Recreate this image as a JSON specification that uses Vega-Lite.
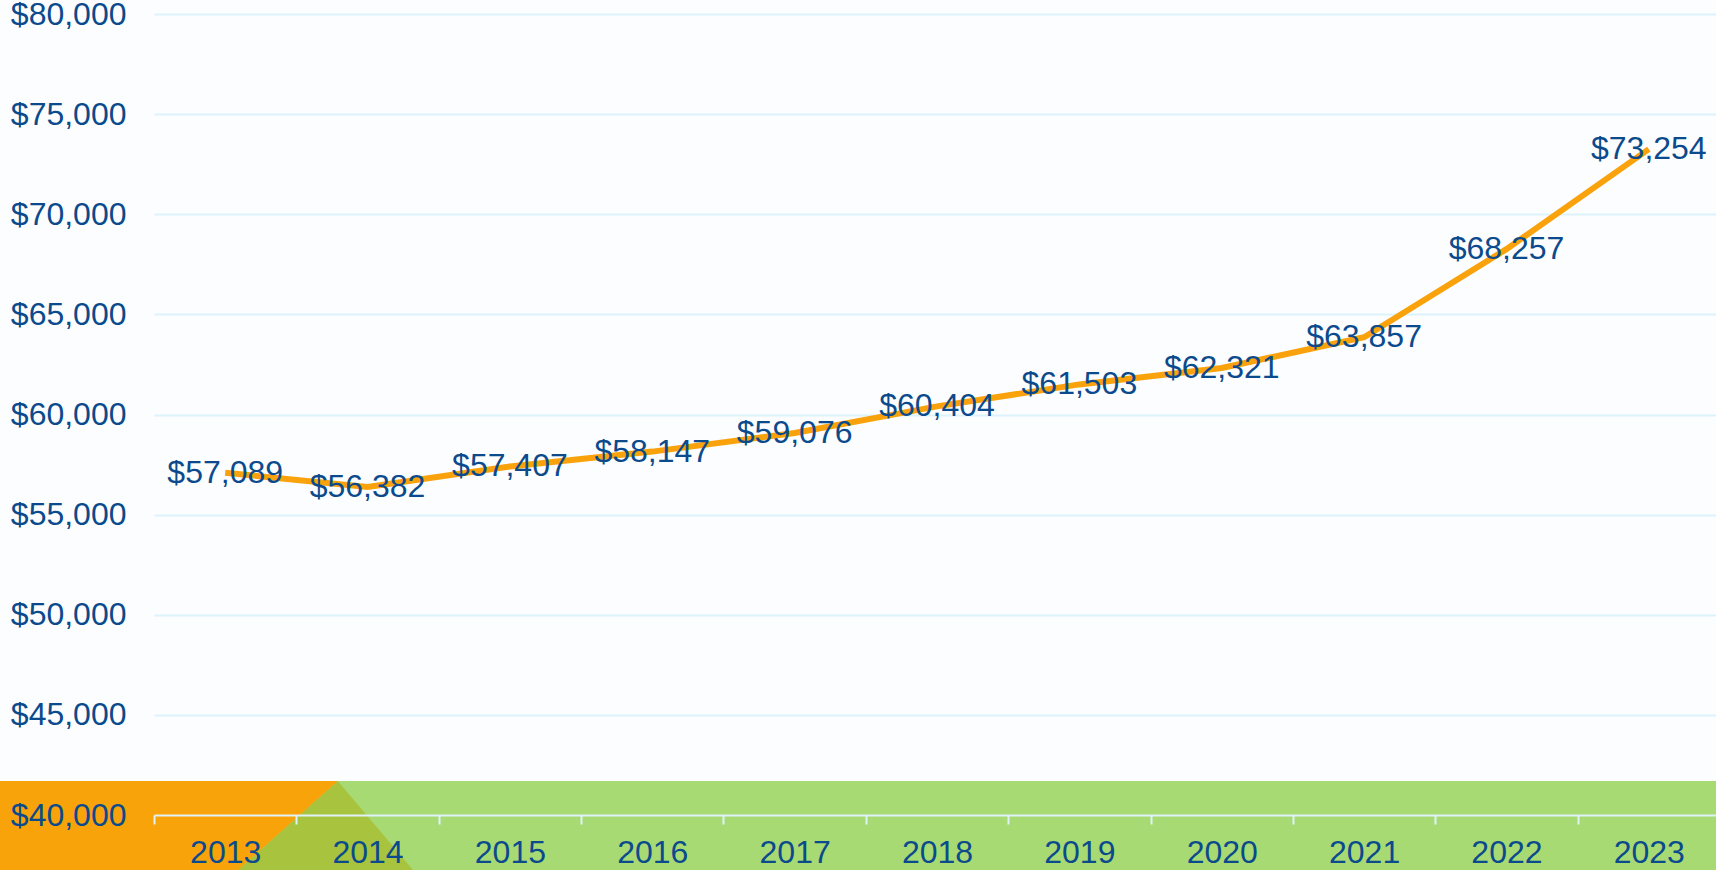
{
  "$schema": "https://vega.github.io/schema/vega-lite/v6.json",
  "width": 1566,
  "height": 801,
  "autosize": {"type": "none"},
  "padding": {"left": 154, "top": 14, "right": 0, "bottom": 55},
  "background": "#fbfdfe",
  "config": {"view": {"stroke": null}, "font": "Liberation Sans"},
  "datasets": {
    "income": [
      {"year": 2013, "income": 57089},
      {"year": 2014, "income": 56382},
      {"year": 2015, "income": 57407},
      {"year": 2016, "income": 58147},
      {"year": 2017, "income": 59076},
      {"year": 2018, "income": 60404},
      {"year": 2019, "income": 61503},
      {"year": 2020, "income": 62321},
      {"year": 2021, "income": 63857},
      {"year": 2022, "income": 68257},
      {"year": 2023, "income": 73254}
    ],
    "band": [{"year": 2011.3, "year2": 2023.7, "top": 41700, "bottom": 37000}],
    "olive": [
      {"year": 2013.09, "top": 37250, "bottom": 37250},
      {"year": 2013.791, "top": 41700, "bottom": 37250},
      {"year": 2014.32, "top": 37250, "bottom": 37250}
    ],
    "orange": [
      {"year": 2011.3, "top": 41700, "bottom": 37000},
      {"year": 2013.09, "top": 41700, "bottom": 37250},
      {"year": 2013.791, "top": 41700, "bottom": 41700}
    ]
  },
  "encoding": {
    "x": {
      "field": "year", "type": "quantitative", "title": null,
      "scale": {"domain": [2012.5, 2023.5], "nice": false, "zero": false},
      "axis": {
        "title": null,
        "zindex": 1,
        "values": [2012.5, 2013, 2013.5, 2014, 2014.5, 2015, 2015.5, 2016, 2016.5, 2017, 2017.5, 2018, 2018.5, 2019, 2019.5, 2020, 2020.5, 2021, 2021.5, 2022, 2022.5, 2023, 2023.5],
        "labelExpr": "datum.value % 1 == 0 ? '' + datum.value : ''",
        "tickOpacity": {"condition": {"test": "datum.value % 1 == 0", "value": 0}, "value": 1},
        "labelOverlap": false,
        "labelFlush": false,
        "labelBound": false,
        "grid": false,
        "domainColor": "#dff2f8",
        "domainWidth": 2,
        "tickColor": "#dff2f8",
        "tickWidth": 2,
        "tickSize": 9,
        "labelFontSize": 32,
        "labelColor": "#0b4a8c",
        "labelPadding": 13
      }
    }
  },
  "layer": [
    {
      "data": {"name": "band"},
      "mark": {"type": "rect", "color": "#a8da74"},
      "encoding": {
        "x2": {"field": "year2"},
        "y": {"field": "top", "type": "quantitative", "scale": {"domain": [40000, 80000], "nice": false, "zero": false}, "axis": null},
        "y2": {"field": "bottom"}
      }
    },
    {
      "data": {"name": "olive"},
      "mark": {"type": "area", "color": "#a8c43e", "orient": "vertical"},
      "encoding": {
        "y": {"field": "top", "type": "quantitative", "scale": {"domain": [40000, 80000], "nice": false, "zero": false}, "axis": null},
        "y2": {"field": "bottom"}
      }
    },
    {
      "data": {"name": "orange"},
      "mark": {"type": "area", "color": "#f9a30a", "orient": "vertical"},
      "encoding": {
        "y": {"field": "top", "type": "quantitative", "scale": {"domain": [40000, 80000], "nice": false, "zero": false}, "axis": null},
        "y2": {"field": "bottom"}
      }
    },
    {
      "data": {"name": "income"},
      "mark": {"type": "line", "color": "#f9a20b", "strokeWidth": 6},
      "encoding": {
        "y": {
          "field": "income", "type": "quantitative",
          "scale": {"domain": [40000, 80000], "nice": false, "zero": false},
          "axis": {
            "orient": "left",
            "title": null,
            "values": [45000, 50000, 55000, 60000, 65000, 70000, 75000, 80000],
            "grid": true,
            "gridColor": "#ddf3fb",
            "gridWidth": 2,
            "labels": false,
            "ticks": false,
            "domain": false,
            "zindex": 0
          }
        }
      }
    },
    {
      "data": {"name": "income"},
      "mark": {"type": "text", "fontSize": 32, "color": "#0b4a8c", "align": "center", "baseline": "middle"},
      "encoding": {
        "y": {
          "field": "income", "type": "quantitative",
          "scale": {"domain": [40000, 80000], "nice": false, "zero": false},
          "axis": {
            "orient": "left",
            "title": null,
            "values": [40000, 45000, 50000, 55000, 60000, 65000, 70000, 75000, 80000],
            "format": "$,.0f",
            "grid": false,
            "ticks": false,
            "tickSize": 0,
            "domain": false,
            "labelFontSize": 32,
            "labelColor": "#0b4a8c",
            "labelPadding": 28,
            "labelBaseline": "middle",
            "zindex": 1
          }
        },
        "text": {"field": "income", "type": "quantitative", "format": "$,.0f"}
      }
    }
  ],
  "resolve": {"axis": {"y": "independent"}}
}
